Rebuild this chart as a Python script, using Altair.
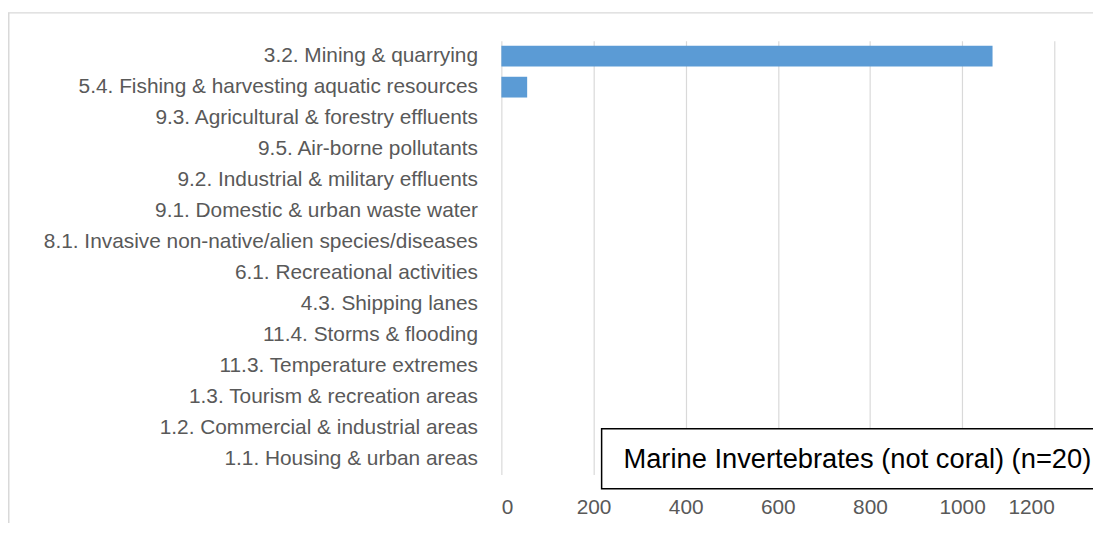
import altair as alt
import pandas as pd

categories = [
    "3.2. Mining & quarrying",
    "5.4. Fishing & harvesting aquatic resources",
    "9.3. Agricultural & forestry effluents",
    "9.5. Air-borne pollutants",
    "9.2. Industrial & military effluents",
    "9.1. Domestic & urban waste water",
    "8.1. Invasive non-native/alien species/diseases",
    "6.1. Recreational activities",
    "4.3. Shipping lanes",
    "11.4. Storms & flooding",
    "11.3. Temperature extremes",
    "1.3. Tourism & recreation areas",
    "1.2. Commercial & industrial areas",
    "1.1. Housing & urban areas",
]
values = [1066, 56, 0, 0, 0, 0, 0, 0, 0, 0, 0, 0, 0, 0]
x_ticks = [0, 200, 400, 600, 800, 1000, 1200]
series_name = "Marine Invertebrates (not coral) (n=20)"

df = pd.DataFrame({"threat": categories, "value": values})
box_df = pd.DataFrame({"label": [series_name]})
one = pd.DataFrame({"k": [0]})

FONT = "Liberation Sans"
GRAY = "#595959"
W, H = 557, 437
PL, PT = 497, 31
SVG_W, SVG_H = 1093, 517
X0 = PL + 8  # page x of the plot's left edge
Y0 = PT + 8  # page y of the plot's top edge

bars = alt.Chart(df).mark_bar(color="#5B9BD5").encode(
    y=alt.Y(
        "threat:N",
        sort=categories,
        title=None,
        scale=alt.Scale(paddingInner=0.33, paddingOuter=0.165),
        axis=alt.Axis(
            domain=False, ticks=False, grid=False, labelPadding=24,
            labelFontSize=21, labelColor=GRAY, labelFont=FONT, labelLimit=600,
        ),
    ),
    x=alt.X(
        "value:Q",
        title=None,
        scale=alt.Scale(domain=[0, 1200], nice=False),
        axis=alt.Axis(
            values=x_ticks, format="d", domain=False, ticks=False, grid=True,
            gridColor="#D9D9D9", gridWidth=1.2, labelPadding=22,
            labelFontSize=21, labelColor=GRAY, labelFont=FONT,
        ),
    ),
)

frame_top = alt.Chart(one).mark_rule(color="#D9D9D9", strokeWidth=1.5).encode(
    x=alt.value(-PL), x2=alt.value(SVG_W - PL), y=alt.value(3 - PT)
)
frame_left = alt.Chart(one).mark_rule(color="#D9D9D9", strokeWidth=1.5).encode(
    x=alt.value(0.75 - PL), y=alt.value(3 - PT), y2=alt.value(SVG_H - PT)
)

box = alt.Chart(box_df).mark_rect(fill="white", stroke="black", strokeWidth=1.5).encode(
    x=alt.value(606 - X0), x2=alt.value(1112 - X0),
    y=alt.value(430 - Y0), y2=alt.value(490.5 - Y0),
)
box_text = alt.Chart(box_df).mark_text(
    align="left", baseline="middle", fontSize=27.5, font=FONT, color="black"
).encode(
    x=alt.value(628 - X0), y=alt.value(461 - Y0), text="label:N"
)

chart = alt.layer(bars, box, box_text, frame_top, frame_left).properties(
    width=W, height=H,
    autosize=alt.AutoSizeParams(type="none"),
    padding={"left": PL, "top": PT, "right": SVG_W - PL - W, "bottom": SVG_H - PT - H},
).configure_view(stroke=None)

chart.save("out.html", embed_options={"renderer": "svg", "actions": False})
